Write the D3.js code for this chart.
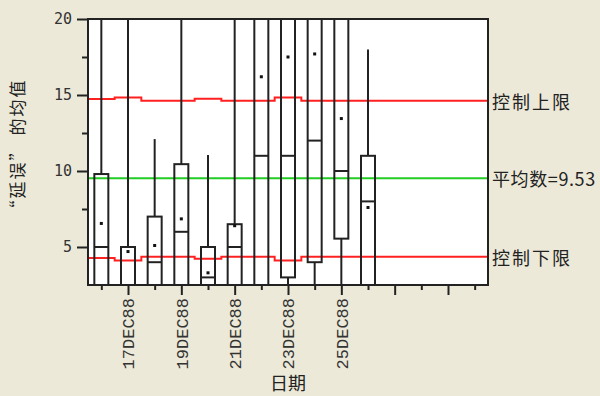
<!DOCTYPE html>
<html>
<head>
<meta charset="utf-8">
<script src="https://cdn.jsdelivr.net/npm/d3@7"></script>
<style>
  body { margin: 0; background: #ece9d8; }
  svg { display: block; }
</style>
</head>
<body>
<div class="vis-boxchart"></div>
<script>
// days (December 1988) that have a box
const days = [16, 17, 18, 19, 20, 21, 22, 23, 24, 25, 26];
const lows = [1, 1, 1, 1, 1, 1, 1, 1, 1, 1, 1];
const q1s = [2, 2, 2, 2, 2, 2, 2, 3, 4, 5.55, 2];
const medians = [5, 5, 4, 6, 3, 5, 11, 11, 12, 10, 8];
const q3s = [9.8, 5, 7, 10.45, 5, 6.5, 22, 22, 22, 22, 11];
const highs = [25, 25, 12.1, 25, 11.05, 25, 25, 25, 25, 25, 18];
const means = [6.55, 4.7, 5.1, 6.85, 3.3, 6.4, 16.2, 17.5, 17.7, 13.45, 7.6];

// control limits for every day on the axis (16..30 DEC)
const limitDays = [16, 17, 18, 19, 20, 21, 22, 23, 24, 25, 26, 27, 28, 29, 30];
const ucl = [14.74, 14.84, 14.62, 14.62, 14.76, 14.62, 14.62, 14.84, 14.62, 14.62, 14.62, 14.62, 14.62, 14.62, 14.62];
const lcl = [4.28, 4.12, 4.36, 4.36, 4.23, 4.36, 4.36, 4.12, 4.36, 4.36, 4.36, 4.36, 4.36, 4.36, 4.36];
const grandMean = 9.53;

const yTicks = [5, 10, 15, 20];
const yMinor = [7.5, 12.5, 17.5];
const labelDays = [17, 19, 21, 23, 25];

const width = 600, height = 396;
const margin = { top: 19, right: 112, bottom: 111, left: 88 };
const w = width - margin.left - margin.right;
const h = height - margin.top - margin.bottom;

const day = d => new Date(Date.UTC(1988, 11, d));
const half = d => new Date(Date.UTC(1988, 11, d, 12));

const x = d3.scaleUtc().domain([half(15), half(30)]).range([0, w]);
const y = d3.scaleLinear().domain([2.5, 20]).range([h, 0]);

const svg = d3.select('.vis-boxchart').append('svg')
    .attr('width', width).attr('height', height);

const g = svg.append('g')
    .attr('transform', 'translate(' + margin.left + ',' + margin.top + ')');

svg.append('defs').append('clipPath').attr('id', 'plotclip')
    .append('rect').attr('width', w).attr('height', h);

g.append('rect').attr('width', w).attr('height', h).attr('fill', '#fff');

const ink = '#222';

// y axis
const yAxis = g.append('g')
    .call(d3.axisLeft(y).tickValues(yTicks).tickSize(11).tickPadding(5));
g.append('g')
    .call(d3.axisLeft(y).tickValues(yMinor).tickSize(6).tickFormat(''));
g.selectAll('.domain').remove();
g.selectAll('.tick line').attr('stroke', ink).attr('stroke-width', 2);
yAxis.selectAll('text')
    .attr('fill', '#333')
    .style('font-family', 'DejaVu Sans Mono')
    .style('font-size', '15px');

// x axis: short ticks on even days, long on odd days
const evenDays = limitDays.filter(d => d % 2 === 0).map(day);
const oddDays = limitDays.filter(d => d % 2 === 1).map(day);
const xShort = g.append('g').attr('transform', 'translate(0,' + h + ')')
    .call(d3.axisBottom(x).tickValues(evenDays).tickSize(5).tickFormat(''));
const xLong = g.append('g').attr('transform', 'translate(0,' + h + ')')
    .call(d3.axisBottom(x).tickValues(oddDays).tickSize(10)
        .tickFormat(d => labelDays.includes(d.getUTCDate())
            ? d3.utcFormat('%d%b%y')(d).toUpperCase() : ''));
xShort.select('.domain').remove();
xLong.select('.domain').remove();
[xShort, xLong].forEach(a => a.selectAll('.tick line').attr('stroke', ink).attr('stroke-width', 2));
xLong.selectAll('text')
    .attr('transform', 'rotate(-90)')
    .attr('x', -13).attr('y', 0).attr('dy', '0.35em')
    .style('text-anchor', 'end')
    .attr('fill', '#333')
    .style('font-family', 'Liberation Mono')
    .style('font-size', '17px');

// control limits and mean
const plot = g.append('g').attr('clip-path', 'url(#plotclip)');
const stepPts = vals => {
    const pts = limitDays.map((d, i) => [x(half(d - 1)), y(vals[i])]);
    pts.push([x(half(limitDays[limitDays.length - 1])), y(vals[vals.length - 1])]);
    return pts;
};
const step = d3.line().curve(d3.curveStepAfter);
plot.append('path').attr('d', step(stepPts(ucl)))
    .attr('fill', 'none').attr('stroke', '#ff2020').attr('stroke-width', 2);
plot.append('path').attr('d', step(stepPts(lcl)))
    .attr('fill', 'none').attr('stroke', '#ff2020').attr('stroke-width', 2);
plot.append('line')
    .attr('x1', 0).attr('x2', w)
    .attr('y1', y(grandMean)).attr('y2', y(grandMean))
    .attr('stroke', '#22cc22').attr('stroke-width', 2);

// boxes
const boxW = 14;
const boxes = plot.selectAll('.box').data(days).join('g').attr('class', 'box');
boxes.append('line')
    .attr('x1', d => x(day(d))).attr('x2', d => x(day(d)))
    .attr('y1', (d, i) => y(highs[i])).attr('y2', (d, i) => y(q3s[i]))
    .attr('stroke', ink).attr('stroke-width', 2);
boxes.append('line')
    .attr('x1', d => x(day(d))).attr('x2', d => x(day(d)))
    .attr('y1', (d, i) => y(q1s[i])).attr('y2', (d, i) => y(lows[i]))
    .attr('stroke', ink).attr('stroke-width', 2);
boxes.append('rect')
    .attr('x', d => x(day(d)) - boxW / 2).attr('width', boxW)
    .attr('y', (d, i) => y(q3s[i]))
    .attr('height', (d, i) => y(q1s[i]) - y(q3s[i]))
    .attr('fill', 'none').attr('stroke', ink).attr('stroke-width', 2);
boxes.append('line')
    .attr('x1', d => x(day(d)) - boxW / 2).attr('x2', d => x(day(d)) + boxW / 2)
    .attr('y1', (d, i) => y(medians[i])).attr('y2', (d, i) => y(medians[i]))
    .attr('stroke', ink).attr('stroke-width', 2);
boxes.append('rect')
    .attr('x', d => x(day(d)) - 1.5).attr('width', 3)
    .attr('y', (d, i) => y(means[i]) - 1.5).attr('height', 3)
    .attr('fill', '#111');

// frame
g.append('rect').attr('width', w).attr('height', h)
    .attr('fill', 'none').attr('stroke', ink).attr('stroke-width', 2);

// right-side labels
const cjk = '"Noto Sans CJK SC", sans-serif';
const rightLabels = [
    [ucl[ucl.length - 1], '控制上限', 2],
    [grandMean, '平均数=9.53', 0.6],
    [lcl[lcl.length - 1], '控制下限', 2]
];
g.selectAll('.rlabel').data(rightLabels).join('text')
    .attr('x', w + 4).attr('y', d => y(d[0]) + 2)
    .attr('dy', '0.35em')
    .attr('fill', '#222')
    .style('font-family', cjk).style('font-size', '18px')
    .style('letter-spacing', d => d[2] + 'px')
    .text(d => d[1]);

// axis titles
svg.append('text')
    .attr('transform', 'translate(18,148) rotate(-90)')
    .attr('dy', '0.35em').attr('text-anchor', 'middle')
    .attr('fill', '#222')
    .style('font-family', cjk).style('font-size', '17px')
    .style('letter-spacing', '2px')
    .text('“延误” 的均值');
svg.append('text')
    .attr('x', margin.left + w / 2).attr('y', 390)
    .attr('text-anchor', 'middle')
    .attr('fill', '#222')
    .style('font-family', cjk).style('font-size', '18px')
    .text('日期');
</script>
</body>
</html>
